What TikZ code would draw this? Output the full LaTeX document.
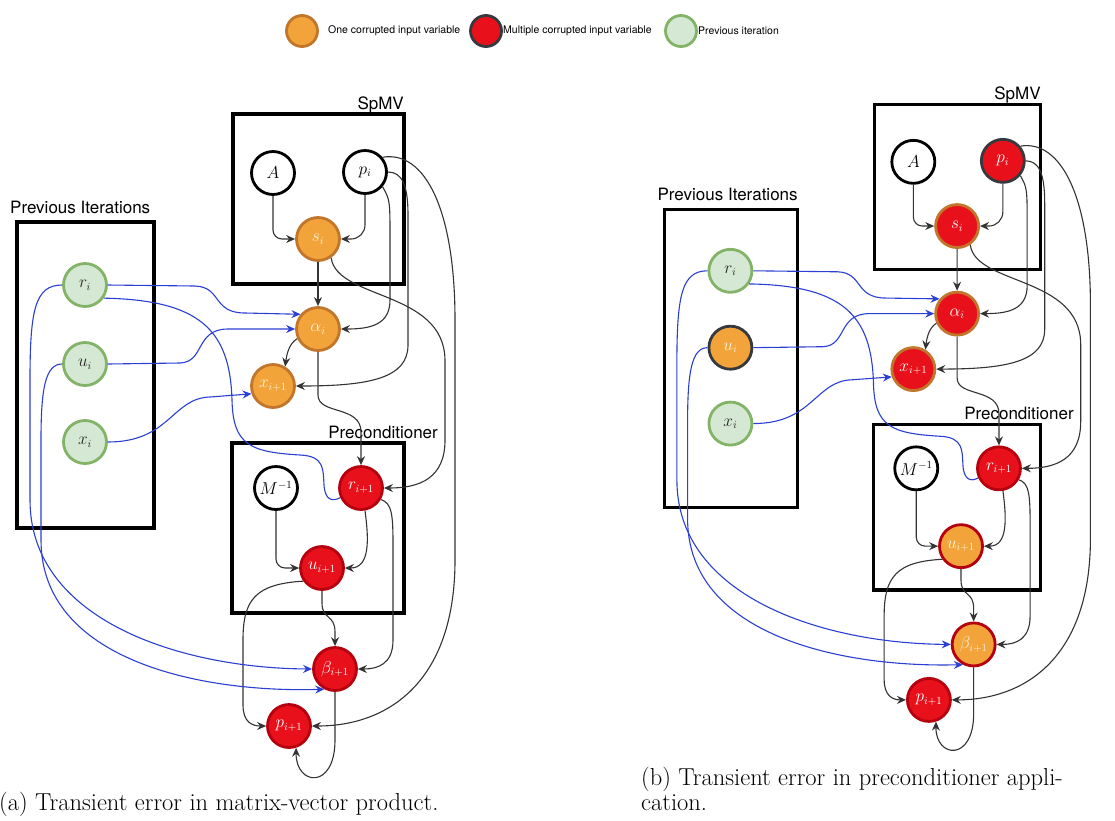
\documentclass[tikz,border=0pt]{standalone}
\usepackage{fontspec}
\newfontfamily\helv{TeX Gyre Heros}
\usetikzlibrary{arrows.meta}
\definecolor{orfill}{HTML}{F2A33A}
\definecolor{orline}{HTML}{C1762B}
\definecolor{rdfill}{HTML}{E8111B}
\definecolor{rdline}{HTML}{B5000E}
\definecolor{dkline}{HTML}{36393D}
\definecolor{grfill}{HTML}{D5E8D4}
\definecolor{grline}{HTML}{82B366}
\definecolor{blueln}{HTML}{2B3FD2}
\definecolor{ortext}{HTML}{FFF4DE}
\tikzset{
 vnode/.style={circle, minimum size=43pt, inner sep=0pt, line width=2.8pt, font=\fontsize{16}{18}\selectfont},
 wnode/.style={vnode, draw=black, fill=white, text=black},
 gnode/.style={vnode, draw=grline, fill=grfill, text=black!85},
 onode/.style={vnode, draw=orline, fill=orfill, text=ortext},
 odnode/.style={vnode, draw=dkline, fill=orfill, text=ortext},
 ornode/.style={vnode, draw=rdline, fill=orfill, text=ortext},
 rnode/.style={vnode, draw=rdline, fill=rdfill, text=white},
 rdnode/.style={vnode, draw=dkline, fill=rdfill, text=white},
 ronode/.style={vnode, draw=orline, fill=rdfill, text=white},
 grpbox/.style={draw=black, line width=3.2pt},
 lab/.style={font=\helv\fontsize{17}{20}\selectfont, inner sep=0pt},
 legtext/.style={font=\helv\fontsize{10.5}{12}\selectfont, anchor=west, inner sep=0pt},
 legnode/.style={circle, minimum size=31pt, inner sep=0pt, line width=2.8pt},
 blk/.style={draw=black!80, line width=1.1pt, -{Stealth[length=9pt,width=8pt,inset=3pt]}},
 blu/.style={draw=blueln, line width=1.1pt, -{Stealth[length=9pt,width=8pt,inset=3pt]}},
 blunotip/.style={draw=blueln, line width=1.1pt},
 captext/.style={font=\fontsize{24.5}{29}\selectfont, anchor=base west, inner sep=0pt},
}
% #1 p_i style, #2 s/alpha/x style, #3 u_i style, #4 u_{i+1} style, #5 beta style
\newcommand{\cgdiagram}[5]{%
 \draw[grpbox] (233,114) rectangle (404,284);
 \draw[grpbox] (17,222) rectangle (154,528);
 \draw[grpbox] (232,443) rectangle (404,613);
 \node[lab, anchor=base east] (spmv) at (404,109) {SpMV};
 \node[lab, anchor=base west] (prev) at (10,213) {Previous Iterations};
 \node[lab, anchor=base east] (prec) at (438,438) {Preconditioner};
 \node[wnode] (nA) at (273,173) {$A$};
 \node[#1] (np) at (365,172) {$p_i$};
 \node[#2] (ns) at (318,239) {$s_i$};
 \node[#2] (nal) at (318,329) {$\alpha_i$};
 \node[#2] (nx) at (273,386) {$x_{i+1}$};
 \node[gnode] (nr) at (85,285) {$r_i$};
 \node[#3] (nu) at (85,364) {$u_i$};
 \node[gnode] (nxi) at (85,442) {$x_i$};
 \node[wnode] (nM) at (276,488) {$M^{-1}$};
 \node[rnode] (nr1) at (361,488) {$r_{i+1}$};
 \node[#4] (nu1) at (322,568) {$u_{i+1}$};
 \node[#5] (nb) at (335,669) {$\beta_{i+1}$};
 \node[rnode] (np1) at (289,726) {$p_{i+1}$};
 % black connectors
 \draw[blk, rounded corners=9pt] (nA.south) |- (ns.west);
 \draw[blk, rounded corners=14pt] (np.south) |- (ns.east);
 \draw[blk] (ns) -- (nal);
 \draw[blk] (np.-40) .. controls (390,200) .. (390,240) -- (390,300) .. controls (390,325) and (370,329) .. (nal.east);
 \draw[blk] (np.east) .. controls (402,172) and (408,185) .. (408,215) -- (408,345) .. controls (408,378) and (370,386) .. (nx.east);
 \draw[blk] (np.40) .. controls (425,150) and (455,210) .. (455,320) -- (455,560) .. controls (455,680) and (390,726) .. (np1.east);
 \draw[blk] (ns.-55) .. controls (337,300) and (444,290) .. (445,360) -- (445,440) .. controls (445,478) and (420,488) .. (nr1.east);
 \draw[blk] (nal.south) -- (318,395) .. controls (318,415) and (361,405) .. (361,432) -- (nr1.north);
 \draw[blk] (nal.205) .. controls (290,343) and (287,352) .. (nx.58);
 \draw[blk, rounded corners=9pt] (nM.south) |- (nu1.west);
 \draw[blk] (nr1.-80) .. controls (369,540) and (370,568) .. (nu1.east);
 \draw[blk] (nr1.-30) .. controls (392,503) and (393,515) .. (393,545) -- (393,640) .. controls (393,664) and (378,669) .. (nb.east);
 \draw[blk] (nu1.south) -- (322,603) .. controls (322,620) and (335,614) .. (335,632) -- (nb.north);
 \draw[blk] (nu1.-145) .. controls (255,584) and (243,600) .. (243,640) -- (243,705) .. controls (243,722) and (252,726) .. (np1.west);
 \draw[blk] (nb.south) -- (335,740) .. controls (335,790) and (296,786) .. (np1.-72);
 % blue connectors
 \draw[blu] (nr.east) -- (195,286) .. controls (222,287) and (212,313) .. (245,313) -- (nal.140);
 \draw[blu] (nu.east) -- (180,363) .. controls (205,362) and (195,329) .. (228,329) -- (nal.west);
 \draw[blu] (nxi.east) .. controls (170,442) and (172,398) .. (210,397) -- (nx.200);
 \draw[blunotip] (nr.-35) .. controls (200,300) and (230,330) .. (232,400) .. controls (233,445) and (250,452) .. (300,455) .. controls (325,456) and (323,470) .. (324,485) .. controls (325,500) and (332,502) .. (nr1.205);
 \draw[blu] (nr.west) .. controls (35,285) and (30,310) .. (30,380) -- (30,500) .. controls (30,620) and (180,668) .. (nb.west);
 \draw[blu] (nu.west) .. controls (45,364) and (41,390) .. (41,440) -- (41,540) .. controls (41,660) and (200,693) .. (nb.242);
}
\begin{document}
\begin{tikzpicture}[x=1pt,y=-1pt]
\useasboundingbox (0,0) rectangle (1115,820);
% legend
\node[legnode, draw=orline, fill=orfill] (lg1) at (302,31) {};
\node[legtext] (lt1) at (328,31) {One corrupted input variable};
\node[legnode, draw=dkline, fill=rdfill] (lg2) at (486,31) {};
\node[legtext] (lt2) at (503,31) {Multiple corrupted input variable};
\node[legnode, draw=grline, fill=grfill] (lg3) at (681,31) {};
\node[legtext] (lt3) at (698,31) {Previous iteration};
% diagram (a)
\begin{scope}[name prefix=L-]
\cgdiagram{wnode}{onode}{gnode}{rnode}{rnode}
\end{scope}
% diagram (b)
\begin{scope}[name prefix=R-, shift={(647.7,-6.5)}, scale=0.973]
\cgdiagram{rdnode}{ronode}{odnode}{ornode}{ornode}
\end{scope}
% captions
\node[captext] (capa) at (-1,810) {(a) Transient error in matrix-vector product.};
\node[captext] (capb1) at (641,785) {(b) Transient error in preconditioner appli-};
\node[captext] (capb2) at (641,810) {cation.};
\end{tikzpicture}
\end{document}
